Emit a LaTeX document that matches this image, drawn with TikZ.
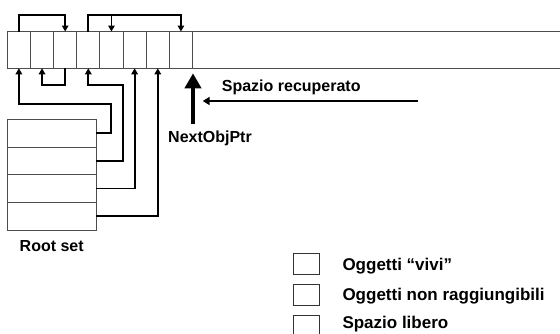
\documentclass[tikz,border=0pt]{standalone}
\usepackage{fontspec}
\setmainfont{Liberation Sans}
\usetikzlibrary{arrows.meta}
\tikzset{
  cell/.style={draw=black!70, line width=1pt, minimum width=23.15pt, minimum height=36.8pt, inner sep=0pt, outer sep=0pt},
  rootbox/.style={draw=black!70, line width=1pt, minimum width=88.7pt, minimum height=27.7pt, inner sep=0pt, outer sep=0pt},
  legbox/.style={draw=black!80, line width=1pt, minimum width=26pt, minimum height=20.7pt, inner sep=0pt, outer sep=0pt},
  conn/.style={line width=1.8pt, -{Triangle[length=6pt,width=6.5pt]}},
  lbl/.style={font=\fontsize{16}{19}\selectfont\bfseries, inner sep=0pt, anchor=base west},
  leglbl/.style={font=\fontsize{17}{20}\selectfont\bfseries, inner sep=0pt, anchor=base west},
}
\begin{document}
\begin{tikzpicture}[x=1pt,y=-1pt]
\useasboundingbox (0,0) rectangle (560,333);
\clip (0,0) rectangle (560,333);
% memory cells
\foreach \i in {1,...,8} {
  \node[cell] (c\i) at ({7.3+23.15*(\i-0.5)},49.9) {};
}
\coordinate (barend) at (565,49.9);
\draw[black!70, line width=1pt] (c8.north east) -- (c8.north east -| barend);
\draw[black!70, line width=1pt] (c8.south east) -- (c8.south east -| barend);
% root set
\foreach \i in {1,...,4} {
  \node[rootbox] (r\i) at (51.65,{119.3+27.7*(\i-0.5)}) {};
}
\node[lbl] (rootlbl) at (19.5,251.7) {Root set};
% top pointers
\coordinate (top) at (0,15);
\coordinate (low) at (0,85);
\draw[conn] (c1.north) -- (c1.north |- top) -| (c3.north);
\draw[conn] (c4.north) -- (c4.north |- top) -| (c8.north);
\draw[conn] (c5.north |- top) -- (c5.north);
% bottom pointers
\draw[conn] (c3.south) -- (c3.south |- low) -| (c2.south);
\coordinate (k1) at (111,104);
\coordinate (k2) at (123,85);
\draw[conn] (r1.east) -| (k1) -| (c1.south);
\draw[conn] (r2.east) -| (k2) -| (c4.south);
\draw[conn] (r3.east) -| (c6.south);
\draw[conn] (r4.east) -| (c7.south);
% NextObjPtr
\coordinate (nopbase) at (193,124);
\coordinate (noptip) at (193,73.3);
\draw[line width=4.5pt, -{Triangle[length=15pt,width=16pt]}] (nopbase) -- (noptip);
\node[lbl] (nop) at (168,142.7) {NextObjPtr};
% Spazio recuperato
\coordinate (srstart) at (418,101);
\coordinate (srtip) at (202.7,101);
\draw[line width=2.5pt, -{Triangle[length=7pt,width=8pt]}] (srstart) -- (srtip);
\node[lbl] (sr) at (221.7,91.7) {Spazio recuperato};
% legend
\node[legbox] (l1) at (306.3,263.7) {};
\node[legbox] (l2) at (306.3,294.7) {};
\node[legbox] (l3) at (306.3,325.5) {};
\node[leglbl] (t1) at (342.3,270.7) {Oggetti “vivi”};
\node[leglbl] (t2) at (342.3,300) {Oggetti non raggiungibili};
\node[leglbl] (t3) at (342.3,328.5) {Spazio libero};
\end{tikzpicture}
\end{document}
